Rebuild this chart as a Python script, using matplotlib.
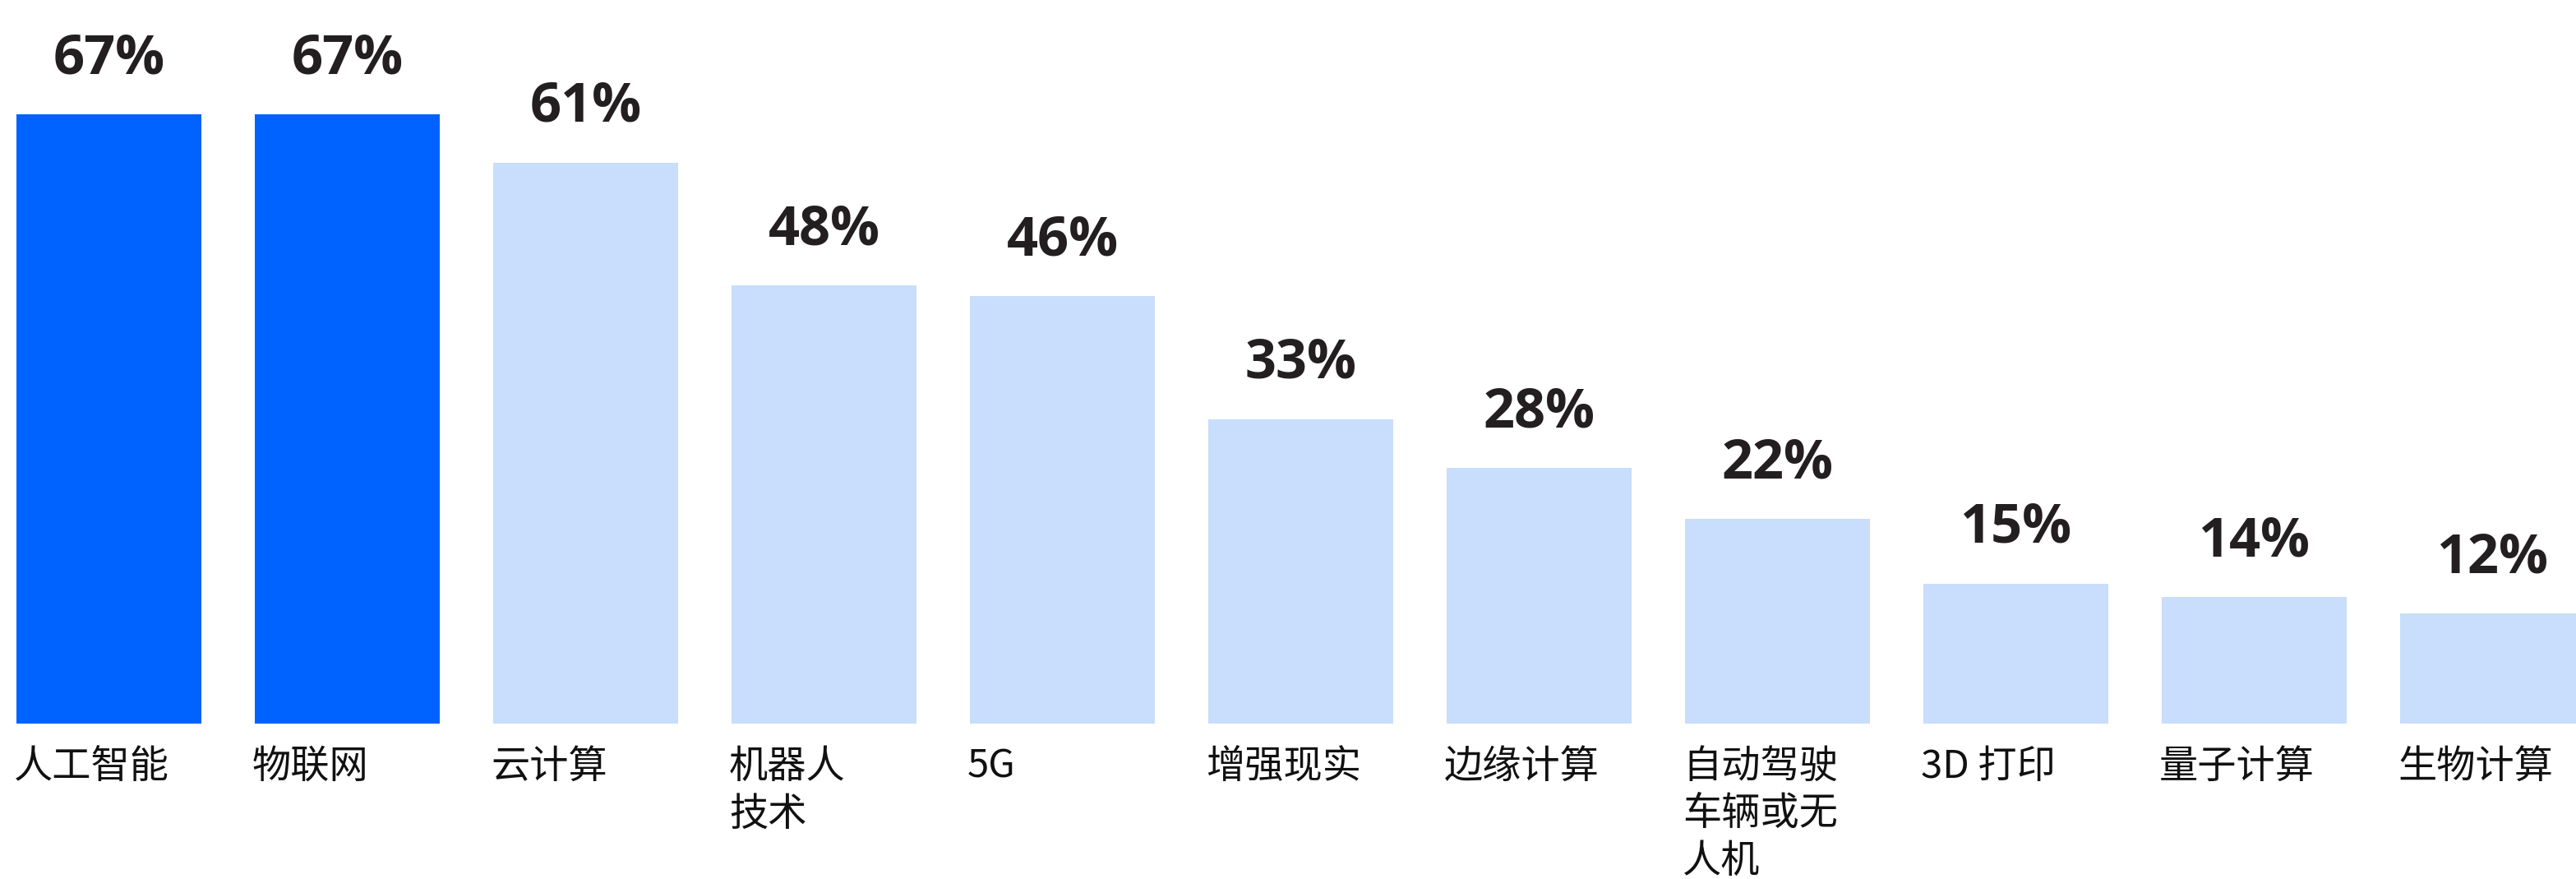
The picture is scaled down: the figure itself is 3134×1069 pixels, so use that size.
import matplotlib.pyplot as plt

categories = ['人工智能', '物联网', '云计算', '机器人\n技术', '5G', '增强现实', '边缘计算',
              '自动驾驶\n车辆或无\n人机', '3D 打印', '量子计算', '生物计算']
# printed labels and bar heights (bars are unrounded)
labels = [67, 67, 61, 48, 46, 33, 28, 22, 15, 14, 12]
heights = [67.0, 67.0, 61.7, 48.2, 47.0, 33.5, 28.1, 22.5, 15.4, 13.9, 12.1]
highlight = [True, True, False, False, False, False, False, False, False, False, False]

DARK = '#0062FF'
LIGHT = '#C9DDFC'
TEXT = '#231F20'
BAR_W = 0.776

fig = plt.figure(figsize=(31.34, 10.69), dpi=100)
ax = fig.add_axes([0, 189 / 1069, 1, 880 / 1069])

x = list(range(len(heights)))
colors = [DARK if h else LIGHT for h in highlight]
ax.bar(x, heights, width=BAR_W, color=colors)

for i, h in enumerate(heights):
    ax.annotate(f'{labels[i]}%', (i, h), xytext=(0, 50), textcoords='offset pixels',
                ha='center', va='baseline', fontsize=48, fontweight='bold',
                family=['Open Sans', 'DejaVu Sans'], color=TEXT, annotation_clip=False)
    ax.annotate(categories[i], (i - BAR_W / 2, 0), xytext=(-3, -28), textcoords='offset pixels',
                ha='left', va='top', fontsize=34, linespacing=1.25,
                family=['Noto Sans CJK SC', 'DejaVu Sans'], color='#111111',
                annotation_clip=False)

ax.set_xlim(-0.457, 10.35)
ax.set_ylim(0, 79.6)
ax.axis('off')

fig.savefig('out.png', dpi=100)
